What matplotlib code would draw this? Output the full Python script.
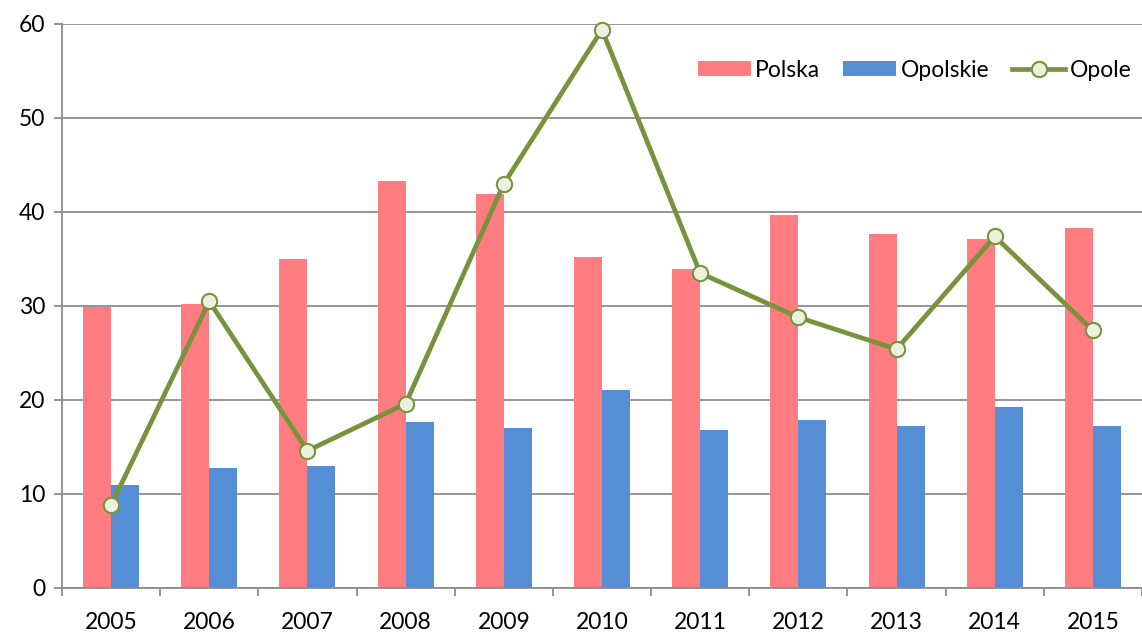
import matplotlib
matplotlib.use("Agg")
import matplotlib.pyplot as plt
import numpy as np

years = ["2005", "2006", "2007", "2008", "2009", "2010", "2011", "2012", "2013", "2014", "2015"]
polska = [29.9, 30.2, 35.0, 43.3, 41.9, 35.2, 33.9, 39.7, 37.7, 37.1, 38.3]
opolskie = [11.0, 12.8, 13.0, 17.7, 17.0, 21.1, 16.8, 17.9, 17.2, 19.3, 17.2]
opole = [8.8, 30.5, 14.6, 19.6, 43.0, 59.4, 33.5, 28.8, 25.4, 37.4, 27.4]
yticks = [0, 10, 20, 30, 40, 50, 60]

plt.rcParams['font.family'] = ['Lato', 'DejaVu Sans']

fig = plt.figure(figsize=(11.42, 6.32), dpi=100)
ax = fig.add_axes([62/1142, (632-588)/632, (1142-62)/1142, (588-24)/632])

x = np.arange(len(years))
w = 0.285
b1 = ax.bar(x - w/2, polska, width=w, color='#FF7C80', label='Polska', zorder=2)
b2 = ax.bar(x + w/2, opolskie, width=w, color='#558ED5', label='Opolskie', zorder=2)
l1, = ax.plot(x, opole, color='#77933C', lw=3.4, marker='o', markersize=11,
              markerfacecolor='#EBF1DE', markeredgecolor='#77933C', markeredgewidth=1.5,
              label='Opole', zorder=3, clip_on=False)

ax.set_xlim(-0.5, len(years) - 0.5)
ax.set_ylim(0, 60)
ax.set_yticks(yticks)
ax.set_yticklabels([str(v) for v in yticks])
ax.yaxis.grid(True, color='#8c8c8c', lw=1.3, zorder=1)
ax.set_axisbelow(True)

ax.set_xticks(x)
ax.set_xticklabels(years)
ax.set_xticks(np.arange(-0.5, len(years) + 0.5, 1), minor=True)
ax.tick_params(axis='x', which='major', length=0, labelsize=16.5, pad=17, colors='black')
ax.tick_params(axis='x', which='minor', length=6, width=1.3, color='#8c8c8c', direction='out')
ax.tick_params(axis='y', length=6, width=1.3, color='#8c8c8c', labelsize=16.5, pad=6, direction='out')

for s in ['top', 'right']:
    ax.spines[s].set_visible(False)
for s in ['left', 'bottom']:
    ax.spines[s].set_color('#8c8c8c')
    ax.spines[s].set_linewidth(1.3)

leg = ax.legend(handles=[b1, b2, l1], loc='center right', bbox_to_anchor=(0.99, 0.918), ncol=3, frameon=False,
                fontsize=16.5, handlelength=2.3, handleheight=0.65, handletextpad=0.2, columnspacing=1.0,
                borderaxespad=0.0, borderpad=0.0)

fig.savefig('out.png', dpi=100)
